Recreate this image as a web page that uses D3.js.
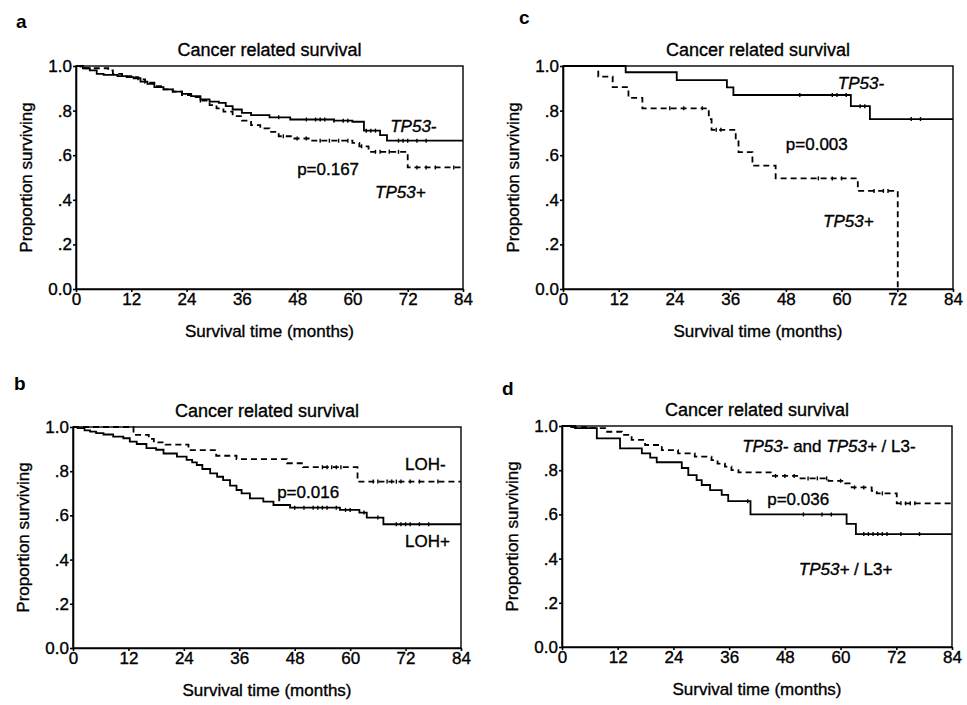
<!DOCTYPE html>
<html>
  <head>
    <meta charset="utf-8">
    <script src="https://d3js.org/d3.v7.min.js"></script>
    <style>
      body { margin: 0; background: white; }
      text { font-family: "Liberation Sans", Arial, sans-serif; fill: black; stroke: black; stroke-width: 0.35; }
      .axis path, .axis line { stroke: black; stroke-width: 1.6; }
      .axis text { stroke: black; stroke-width: 0.35; }
      .curve { fill: none; stroke: black; stroke-width: 1.8; }
      .dashed { stroke-dasharray: 6,4; }
      .censor { stroke: black; stroke-width: 1.4; }
      .title, .xlabel, .ylabel, .note { font-size: 17px; }
      .title { font-size: 18px; }
      .letter { font-size: 19px; font-weight: bold; stroke-width: 0; }
    </style>
  </head>
  <body>
    <script>

      // ticks
      var monthTicks = [0, 12, 24, 36, 48, 60, 72, 84];
      var survTicks = [0, 0.2, 0.4, 0.6, 0.8, 1.0];
      var survTickLabels = ["0.0", ".2", ".4", ".6", ".8", "1.0"];

      // panel a: TP53- (solid) vs TP53+ (dashed)   [months, proportion]
      var aTP53neg = [[0,1],[1.5,0.99],[3,0.98],[4.5,0.965],[6,0.96],[9,0.955],[11,0.95],[12.5,0.945],
        [14,0.93],[15.5,0.92],[17,0.905],[19,0.895],[21,0.885],[23,0.875],[25,0.865],[27,0.85],
        [29,0.84],[31,0.835],[32.5,0.82],[34,0.805],[36,0.79],[38,0.78],[42,0.77],[46.5,0.76],
        [56,0.755],[60,0.75],[62.5,0.71],[66,0.69],[67.5,0.665],[84,0.665]];
      var aTP53pos = [[0,1],[1,0.99],[7,0.98],[8,0.965],[10,0.955],[12,0.95],[13.5,0.94],[15,0.925],
        [17,0.91],[19,0.895],[21,0.885],[23,0.87],[25,0.86],[27,0.845],[29,0.825],[30.5,0.81],
        [32,0.795],[34,0.775],[36,0.755],[38,0.735],[40,0.72],[42,0.705],[44,0.685],[47,0.675],
        [51,0.665],[60,0.655],[61.5,0.64],[63.5,0.615],[72,0.545],[84,0.545]];
      var aNegCensor = [44, 50, 52, 53, 54, 56, 58, 59, 63, 64, 65, 70, 71, 72, 74, 76];
      var aPosCensor = [27, 45, 48, 50, 53, 55, 57, 59, 62, 65, 66, 68, 70, 74, 76, 78, 82];

      // panel b: LOH- (dashed) vs LOH+ (solid)
      var bLOHneg = [[0,1],[13.1,0.964],[16.4,0.946],[17.5,0.93],[20,0.92],[25,0.895],[31,0.87],
        [35.4,0.855],[46.3,0.836],[49.8,0.818],[61.6,0.753],[84,0.753]];
      var bLOHpos = [[0,1],[1,0.995],[2.5,0.985],[3.7,0.979],[5,0.972],[6.6,0.966],[8.7,0.956],
        [10.9,0.949],[12.3,0.934],[13.8,0.923],[15.9,0.904],[18,0.897],[19.6,0.88],[22.5,0.866],
        [24.6,0.851],[25.8,0.84],[26.8,0.828],[28,0.81],[29.7,0.79],[31.2,0.775],[32.5,0.76],
        [34,0.735],[35.4,0.715],[36.5,0.7],[38.3,0.677],[41.2,0.662],[43.4,0.647],[47,0.635],
        [57.8,0.625],[62,0.613],[63.6,0.59],[67.2,0.56],[84,0.56]];
      var bNegCensor = [54, 55, 56, 57, 58, 65, 66, 68, 69, 70, 71, 73, 75, 79];
      var bPosCensor = [48, 50, 52, 53, 54, 55, 57, 59, 60, 63, 66, 70, 71, 72, 73, 75, 77];

      // panel c: TP53- (solid) vs TP53+ (dashed), small series
      var cTP53neg = [[0,1],[13.5,0.972],[24.5,0.937],[35.3,0.904],[36.7,0.87],[62,0.82],
        [66.1,0.762],[84,0.762]];
      var cTP53pos = [[0,1],[7.6,0.952],[10.7,0.905],[14.1,0.857],[17.1,0.81],[31.4,0.762],
        [32,0.714],[37.2,0.667],[37.8,0.614],[40.8,0.553],[45.8,0.496],[63.5,0.44],[72.1,0]];
      var cNegCensor = [51, 58, 59, 61, 64, 65, 75, 77];
      var cPosCensor = [23, 26, 30, 33, 34, 55, 58, 60, 67, 69, 70];

      // panel d: TP53- and TP53+/L3- (dashed) vs TP53+/L3+ (solid)
      var dL3neg = [[0,1],[2,0.995],[5.7,0.99],[9.3,0.974],[12.9,0.96],[15,0.937],[17.9,0.914],
        [21.5,0.891],[25,0.876],[28.6,0.861],[32.2,0.846],[33.5,0.83],[35.1,0.816],[36.5,0.8],
        [38,0.79],[45.2,0.774],[50.9,0.763],[57.4,0.752],[61,0.74],[62.4,0.722],[66.7,0.706],
        [67.8,0.695],[72.1,0.65],[84,0.65]];
      var dL3pos = [[0,1],[2.8,0.99],[7.5,0.944],[12.5,0.899],[17.2,0.876],[19,0.857],[20.4,0.836],
        [25.8,0.81],[27.2,0.778],[29,0.755],[30.1,0.733],[31.9,0.71],[34.4,0.688],[35.8,0.66],
        [40.6,0.6],[61.3,0.557],[63.3,0.511],[84,0.511]];
      var dNegCensor = [46, 48, 50, 53, 55, 57, 60, 63, 65, 69, 73, 74, 75, 76];
      var dPosCensor = [40, 52, 56, 58, 65, 66, 67, 68, 69, 70, 73, 77];

      var svg = d3.select("body").append("svg")
          .attr("width", 967)
          .attr("height", 705);

      function survAt(curve, t) {
        var v = curve[0][1];
        curve.forEach(function(p) { if (p[0] <= t) v = p[1]; });
        return v;
      }

      function drawPanel(p) {
        var x = d3.scaleLinear().domain([0, 84]).range([p.left, p.right]);
        var y = d3.scaleLinear().domain([0, 1]).range([p.bottom, p.top]);

        var g = svg.append("g");

        // frame
        g.append("rect")
            .attr("x", p.left)
            .attr("y", p.top)
            .attr("width", p.right - p.left)
            .attr("height", p.bottom - p.top)
            .style("fill", "none")
            .style("stroke", "black")
            .style("stroke-width", 1.4);

        var xAxis = d3.axisBottom(x).tickValues(monthTicks).tickSize(3).tickSizeOuter(0).tickPadding(1);
        var yAxis = d3.axisLeft(y).tickValues(survTicks)
            .tickFormat(function(d, i) { return survTickLabels[i]; })
            .tickSize(3).tickSizeOuter(0).tickPadding(1);

        g.append("g")
            .attr("class", "axis")
            .attr("transform", "translate(0," + p.bottom + ")")
            .call(xAxis)
            .attr("font-size", 17)
            .attr("font-family", null);

        g.append("g")
            .attr("class", "axis")
            .attr("transform", "translate(" + p.left + ",0)")
            .call(yAxis)
            .attr("font-size", 17)
            .attr("font-family", null);

        var line = d3.line()
            .x(function(d) { return x(d[0]); })
            .y(function(d) { return y(d[1]); })
            .curve(d3.curveStepAfter);

        p.curves.forEach(function(c) {
          g.append("path")
              .datum(c.data)
              .attr("class", c.dashed ? "curve dashed" : "curve")
              .attr("d", line);

          g.selectAll(null)
              .data(c.censor)
              .enter().append("line")
              .attr("class", "censor")
              .attr("x1", function(t) { return x(t); })
              .attr("x2", function(t) { return x(t); })
              .attr("y1", function(t) { return y(survAt(c.data, t)) - 2; })
              .attr("y2", function(t) { return y(survAt(c.data, t)) + 2; });
        });

        // titles and labels
        g.append("text")
            .attr("class", "letter")
            .attr("x", p.letterX)
            .attr("y", p.letterY)
            .text(p.letter);

        g.append("text")
            .attr("class", "title")
            .attr("x", (p.left + p.right) / 2)
            .attr("y", p.top - 10)
            .attr("text-anchor", "middle")
            .text("Cancer related survival");

        g.append("text")
            .attr("class", "xlabel")
            .attr("x", (p.left + p.right) / 2)
            .attr("y", p.bottom + 48)
            .attr("text-anchor", "middle")
            .text("Survival time (months)");

        g.append("text")
            .attr("class", "ylabel")
            .attr("transform", "rotate(-90)")
            .attr("x", -(p.top + p.bottom) / 2)
            .attr("y", p.left - 44)
            .attr("text-anchor", "middle")
            .text("Proportion surviving");

        p.notes.forEach(function(n) {
          var t = g.append("text")
              .attr("class", "note")
              .attr("x", x(n.at[0]))
              .attr("y", y(n.at[1]));
          n.parts.forEach(function(part) {
            t.append("tspan")
                .style("font-style", part[1] ? "italic" : "normal")
                .text(part[0]);
          });
        });
      }

      drawPanel({
        letter: "a", letterX: 16, letterY: 28,
        left: 76, right: 463, top: 66, bottom: 289,
        curves: [
          {data: aTP53neg, censor: aNegCensor, dashed: false},
          {data: aTP53pos, censor: aPosCensor, dashed: true}
        ],
        notes: [
          {at: [68.2, 0.704], parts: [["TP53-", true]]},
          {at: [48.0, 0.511], parts: [["p=0.167", false]]},
          {at: [64.9, 0.408], parts: [["TP53+", true]]}
        ]
      });

      drawPanel({
        letter: "c", letterX: 519, letterY: 24,
        left: 563, right: 953, top: 66, bottom: 289,
        curves: [
          {data: cTP53neg, censor: cNegCensor, dashed: false},
          {data: cTP53pos, censor: cPosCensor, dashed: true}
        ],
        notes: [
          {at: [59.2, 0.897], parts: [["TP53-", true]]},
          {at: [48.0, 0.623], parts: [["p=0.003", false]]},
          {at: [56.0, 0.278], parts: [["TP53+", true]]}
        ]
      });

      drawPanel({
        letter: "b", letterX: 14, letterY: 390,
        left: 73, right: 461, top: 427, bottom: 648,
        curves: [
          {data: bLOHneg, censor: bNegCensor, dashed: true},
          {data: bLOHpos, censor: bPosCensor, dashed: false}
        ],
        notes: [
          {at: [71.9, 0.805], parts: [["LOH-", false]]},
          {at: [44.2, 0.679], parts: [["p=0.016", false]]},
          {at: [71.9, 0.457], parts: [["LOH+", false]]}
        ]
      });

      drawPanel({
        letter: "d", letterX: 502, letterY: 395,
        left: 562, right: 952, top: 426, bottom: 647,
        curves: [
          {data: dL3neg, censor: dNegCensor, dashed: true},
          {data: dL3pos, censor: dPosCensor, dashed: false}
        ],
        notes: [
          {at: [38.8, 0.882], parts: [["TP53-", true], [" and ", false], ["TP53+", true], [" / L3-", false]]},
          {at: [44.2, 0.643], parts: [["p=0.036", false]]},
          {at: [51.0, 0.326], parts: [["TP53+", true], [" / L3+", false]]}
        ]
      });

    </script>
  </body>
</html>
